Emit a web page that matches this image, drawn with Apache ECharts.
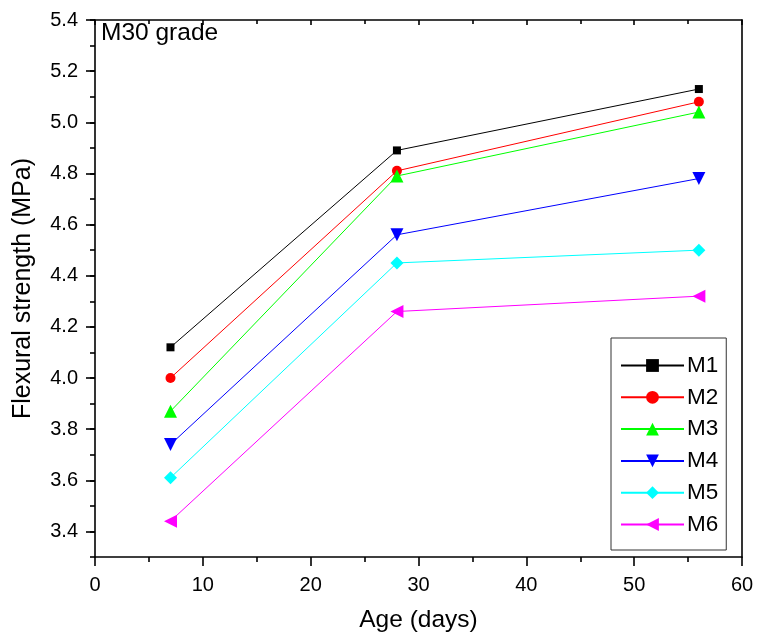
<!DOCTYPE html>
<html>
<head>
<meta charset="utf-8">
<script src="https://cdn.jsdelivr.net/npm/echarts@6/dist/echarts.min.js"></script>
<style>html,body{margin:0;padding:0;background:#fff}#c{width:758px;height:640px}</style>
</head>
<body>
<div id="c"></div>
<script>
const ages = [7, 28, 56];
const seriesNames = ['M1', 'M2', 'M3', 'M4', 'M5', 'M6'];
const m1 = [4.12, 4.89, 5.13];
const m2 = [4.00, 4.81, 5.08];
const m3 = [3.87, 4.79, 5.04];
const m4 = [3.74, 4.56, 4.78];
const m5 = [3.61, 4.45, 4.50];
const m6 = [3.44, 4.26, 4.32];
const yTickLabels = [3.4, 3.6, 3.8, 4.0, 4.2, 4.4, 4.6, 4.8, 5.0, 5.2, 5.4];
const xTitle = 'Age (days)';
const yTitle = 'Flexural strength (MPa)';
const panelLabel = 'M30 grade';

const FONT = 'Liberation Sans, Arial, sans-serif';
const values = [m1, m2, m3, m4, m5, m6];
const colors = ['#000000', '#ff0000', '#00ff00', '#0000ff', '#00ffff', '#ff00ff'];
const symbols = ['rect', 'circle', 'triangle', 'triangle', 'diamond', 'triangle'];
const sizes = [8, 10, 13, 13, 13, 13];
const rotates = [0, 0, 0, 180, 0, 90];

const chart = echarts.init(document.getElementById('c'), null, {renderer: 'canvas'});
const axisLine = {show: true, lineStyle: {color: '#000', width: 1.6}};
const option = {
  animation: false,
  backgroundColor: '#fff',
  textStyle: {fontFamily: FONT},
  title: {
    text: panelLabel, left: 101, top: 21, padding: 0,
    textStyle: {fontFamily: FONT, fontSize: 24.5, fontWeight: 'normal', color: '#000'}
  },
  grid: {left: 95, right: 16, top: 20, bottom: 83, containLabel: false},
  legend: {
    left: 611, top: 338, orient: 'vertical',
    width: 120,
    padding: [16, 8, 14, 9],
    borderColor: '#333', borderWidth: 1,
    itemWidth: 63, itemHeight: 16, itemGap: 8.8,
    textStyle: {fontFamily: FONT, fontSize: 22.5, color: '#000', lineHeight: 22, padding: [0, 0, 0, -2]},
    data: seriesNames
  },
  xAxis: [
    {
      type: 'value', min: 0, max: 60, interval: 10, position: 'bottom',
      axisLine: axisLine,
      axisTick: {show: true, inside: false, length: 9, lineStyle: {color: '#000', width: 1.6}},
      minorTick: {show: true, splitNumber: 2, length: 5, lineStyle: {color: '#000', width: 1.6}},
      axisLabel: {color: '#000', fontSize: 20, fontFamily: FONT, margin: 18},
      splitLine: {show: false},
      name: xTitle, nameLocation: 'middle', nameGap: 51,
      nameTextStyle: {color: '#000', fontSize: 24.5, fontFamily: FONT}
    },
    {
      type: 'value', min: 0, max: 60, interval: 10, position: 'top',
      axisLine: axisLine,
      axisTick: {show: true, inside: true, length: 5, lineStyle: {color: '#000', width: 1.6}},
      minorTick: {show: true, splitNumber: 2, length: 4, lineStyle: {color: '#000', width: 1.6}},
      axisLabel: {show: false},
      splitLine: {show: false}
    }
  ],
  yAxis: [
    {
      type: 'value', min: 3.3, max: 5.4, position: 'left',
      axisLine: axisLine,
      axisTick: {show: true, inside: false, length: 9, customValues: yTickLabels, lineStyle: {color: '#000', width: 1.6}},
      axisLabel: {color: '#000', fontSize: 20, fontFamily: FONT, margin: 17, customValues: yTickLabels,
        formatter: v => v.toFixed(1)},
      splitLine: {show: false},
      name: yTitle, nameLocation: 'middle', nameGap: 59,
      nameTextStyle: {color: '#000', fontSize: 25, fontFamily: FONT}
    },
    {
      type: 'value', min: 3.3, max: 5.4, interval: 0.1, position: 'left',
      axisLine: {show: false},
      axisTick: {show: true, inside: false, length: 5, lineStyle: {color: '#000', width: 1.6}},
      axisLabel: {show: false},
      splitLine: {show: false}
    },
    {
      type: 'value', min: 3.3, max: 5.4, position: 'right',
      axisLine: axisLine,
      axisTick: {show: false},
      axisLabel: {show: false},
      splitLine: {show: false}
    }
  ],
  series: seriesNames.map((name, i) => ({
    name: name,
    type: 'line',
    xAxisIndex: 0, yAxisIndex: 0,
    data: ages.map((a, j) => [a, values[i][j]]),
    symbol: symbols[i],
    symbolSize: sizes[i],
    symbolRotate: rotates[i],
    showAllSymbol: true,
    itemStyle: {color: colors[i]},
    lineStyle: {color: colors[i], width: 1},
    emphasis: {disabled: true}
  }))
};
chart.setOption(option);
</script>
</body>
</html>
